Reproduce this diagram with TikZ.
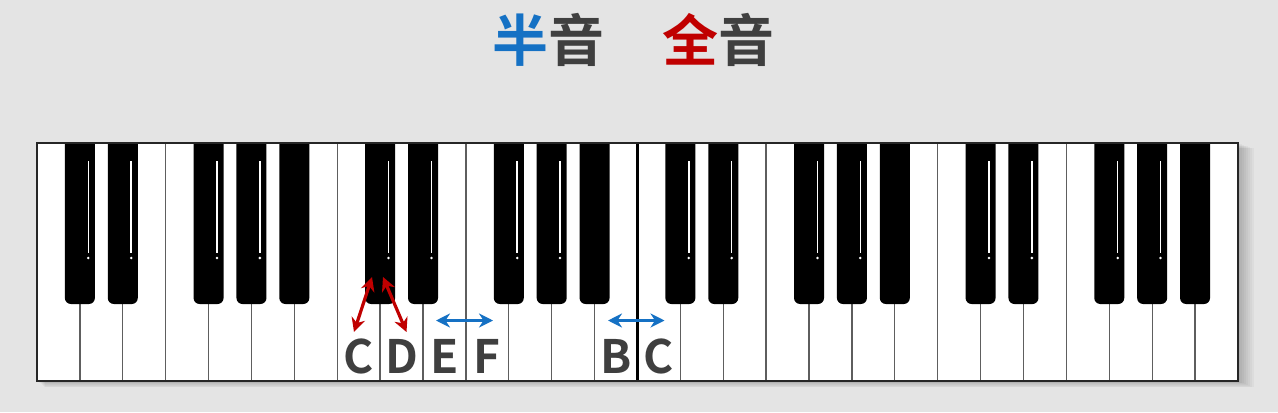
\documentclass[tikz,border=0pt]{standalone}
\usepackage{fontspec}
\newfontfamily\cjk{Noto Sans CJK SC}[BoldFont={Noto Sans CJK SC Bold}]
\usetikzlibrary{arrows.meta}
\definecolor{bgGray}{HTML}{E4E4E4}
\definecolor{halfBlue}{HTML}{1571C4}
\definecolor{wholeRed}{HTML}{C00000}
\definecolor{textGray}{HTML}{3F3F3F}
\definecolor{keyLine}{HTML}{5E5E5E}
\def\kw{42.89}
\begin{document}
\begin{tikzpicture}[x=0.5pt, y=-0.5pt,
    title/.style={font=\cjk\bfseries\fontsize{28pt}{30pt}\selectfont, text=textGray, inner sep=0pt},
    note/.style={font=\cjk\bfseries\fontsize{23pt}{25pt}\selectfont, text=textGray, inner sep=0pt},
    halfArrow/.style={halfBlue, line width=1.6pt, arrows={Stealth[length=7pt,width=7pt]-Stealth[length=7pt,width=7pt]}},
    wholeArrow/.style={wholeRed, line width=1.6pt, arrows={Stealth[length=7pt,width=7pt]-Stealth[length=7pt,width=7pt]}}]
  \fill[bgGray] (0,0) rectangle (1278,412);
  \useasboundingbox (0,0) rectangle (1278,412);

  % ================= 标题 =================
  \node[title] (half) at (548,40) {\textcolor{halfBlue}{半}音};
  \node[title] (whole) at (718,40) {\textcolor{wholeRed}{全}音};

  % ================= 键盘 =================
  % 阴影
  \foreach \s in {2,4,...,16}
    \fill[black, opacity=0.03] (37+\s/2,143+\s/3) rectangle (1238+\s,381+\s*0.4);
  \fill[white] (37,143) rectangle (1238,381);

  % 白键分隔线 (E-F, B-C 通到顶)
  \foreach \i in {1,...,27}{
    \pgfmathtruncatemacro\m{mod(\i,7)}
    \pgfmathsetmacro\xx{37+\i*\kw}
    \ifnum\m=0
      \draw[keyLine, line width=0.65pt] (\xx,143) -- (\xx,381);
    \else\ifnum\m=3
      \draw[keyLine, line width=0.65pt] (\xx,143) -- (\xx,381);
    \else
      \draw[keyLine, line width=0.65pt] (\xx,300) -- (\xx,381);
    \fi\fi
  }
  \draw[black, line width=1.1pt] (37+14*\kw,143) -- (37+14*\kw,381);

  % 黑键
  \begin{scope}
    \clip (37,143) rectangle (1238,381);
    \foreach \o in {0,...,3}{
      \foreach \b in {1,2,4,5,6}{
        \pgfmathsetmacro\c{37+(7*\o+\b)*\kw}
        \fill[black, rounded corners=3pt] (\c-15,130) rectangle (\c+15,304);
        \ifnum\b<6
          \draw[white, line width=0.75pt] (\c+8.4,161) -- (\c+8.4,253);
          \fill[white] (\c+8.4,258) circle (1.4);
        \fi
      }
    }
  \end{scope}
  \draw[black!85, line width=1pt] (37,143) rectangle (1238,381);

  % ================= 音名 =================
  \node[note] (labC) at (37+7.5*\kw,356) {C};
  \node[note] (labD) at (37+8.5*\kw,356) {D};
  \node[note] (labE) at (37+9.5*\kw,356) {E};
  \node[note] (labF) at (37+10.5*\kw,356) {F};
  \node[note] (labB) at (37+13.5*\kw,356) {B};
  \node[note] (labCC) at (37+14.5*\kw,356) {C};

  % 全音 (C -- D，经过黑键)
  \coordinate (csL) at (372,277);
  \coordinate (csR) at (383,277);
  \coordinate (cTip) at (354,332);
  \coordinate (dTip) at (406.5,332);
  \draw[wholeArrow] (csL) -- (cTip);
  \draw[wholeArrow] (csR) -- (dTip);

  % 半音 (E -- F, B -- C)
  \coordinate (eEnd) at (436,320.5);
  \coordinate (fEnd) at (493,320.5);
  \coordinate (bEnd) at (608,320.5);
  \coordinate (ccEnd) at (664.5,320.5);
  \draw[halfArrow] (eEnd) -- (fEnd);
  \draw[halfArrow] (bEnd) -- (ccEnd);
\end{tikzpicture}
\end{document}
